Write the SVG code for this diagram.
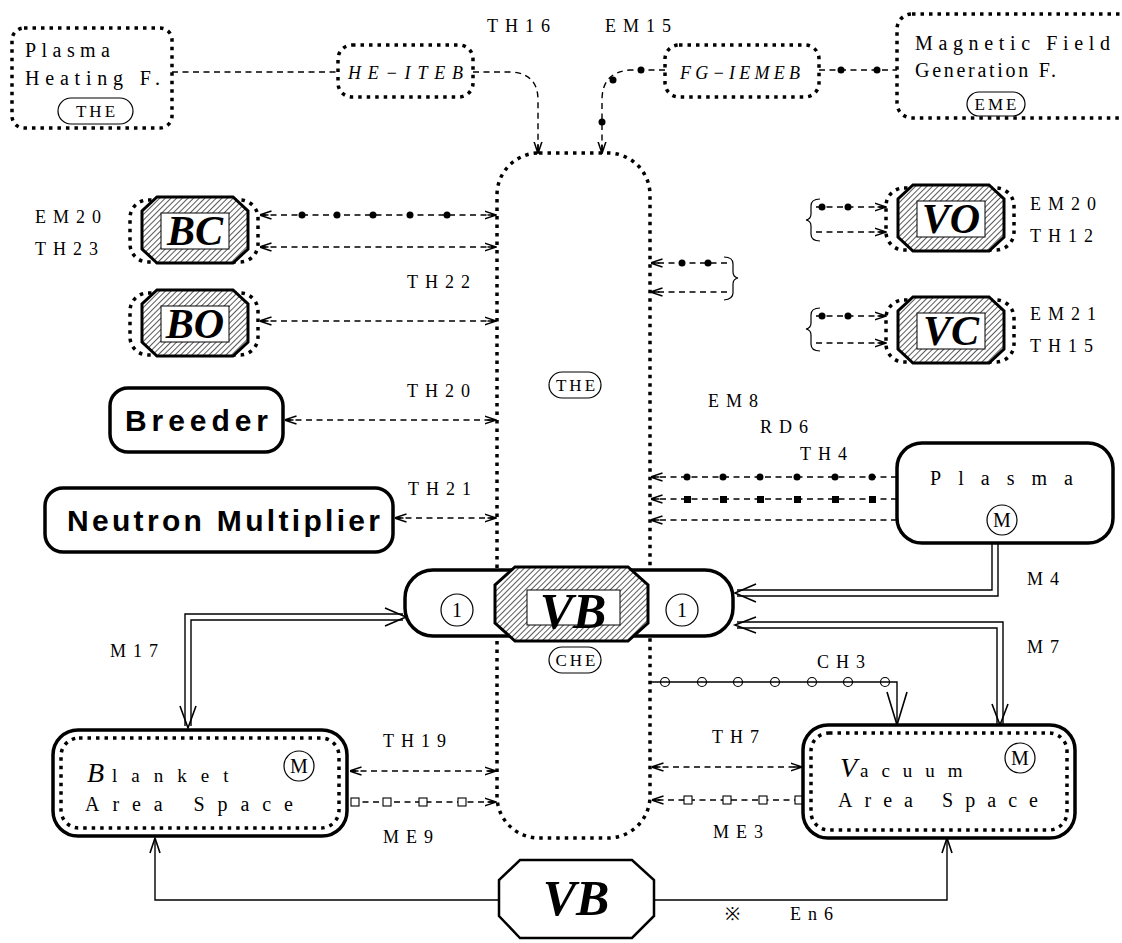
<svg xmlns="http://www.w3.org/2000/svg" width="1122" height="943" viewBox="0 0 1122 943">
<style>
.dot{fill:none;stroke:#000;stroke-width:3.5;stroke-dasharray:3.5 5}
.dl{fill:none;stroke:#000;stroke-width:1.4;stroke-dasharray:6 4.5}
.ln{fill:none;stroke:#000;stroke-width:1.4}
.ah{fill:none;stroke:#000;stroke-width:1.6}
.bx{fill:#fff;stroke:#000;stroke-width:3.5}
.thin{fill:none;stroke:#000;stroke-width:1.2}
.lb{font-family:"Liberation Serif",serif;font-size:18px;letter-spacing:7px;fill:#000}
.tx{font-family:"Liberation Serif",serif;font-size:20px;fill:#000}
.it{font-family:"Liberation Serif",serif;font-style:italic;font-size:18px;fill:#000}
.bi{font-family:"Liberation Serif",serif;font-style:italic;font-weight:bold;fill:#000}
.sb{font-family:"Liberation Sans",sans-serif;font-weight:bold;font-size:30px;fill:#000}
.pill{font-family:"Liberation Serif",serif;font-size:17px;letter-spacing:3px;fill:#000}
.dc{fill:#000}
.sq{fill:#fff;stroke:#000;stroke-width:1.1}
</style>
<defs>
<pattern id="hatch" patternUnits="userSpaceOnUse" width="4" height="4" patternTransform="rotate(45)">
<rect width="4" height="4" fill="#fff"/>
<line x1="0" y1="0" x2="0" y2="4" stroke="#000" stroke-width="1.3"/>
</pattern>
<marker id="ah" viewBox="0 0 12 10" refX="11.5" refY="5" markerWidth="12" markerHeight="10" markerUnits="userSpaceOnUse" orient="auto-start-reverse">
<path d="M0,1 L12,5 L0,9 M3,5 L12,5" fill="none" stroke="#000" stroke-width="1.5" stroke-dasharray="none"/>
</marker>
<g id="valve">
<rect x="-65" y="-30" width="128" height="62" rx="18" class="dot"/>
<polygon points="-38,-33 38,-33 53,-19 53,19 38,33 -38,33 -53,19 -53,-19" fill="url(#hatch)" stroke="#000" stroke-width="3"/>
<rect x="-34" y="-17" width="68" height="36" fill="#fff" stroke="#000" stroke-width="1"/>
</g>
</defs>
<rect width="1122" height="943" fill="#fff"/>

<g id="connectors">
<path class="dl" d="M172,72 H338"/>
<path class="dl" d="M473,72 H512 Q538,74 538,100 V153" marker-end="url(#ah)"/>
<path class="dl" d="M665,70 H630 Q602,72 602,100 V153" marker-end="url(#ah)"/>
<circle class="dc" cx="641" cy="70" r="3.5"/><circle class="dc" cx="613" cy="80" r="3.5"/><circle class="dc" cx="602" cy="122" r="3.5"/>
<path class="dl" d="M819,70 H897"/>
<circle class="dc" cx="841" cy="70" r="3.5"/><circle class="dc" cx="877" cy="70" r="3.5"/>
<path class="dl" d="M260,215 H496" marker-start="url(#ah)" marker-end="url(#ah)"/>
<circle class="dc" cx="302" cy="215" r="3.5"/><circle class="dc" cx="337" cy="215" r="3.5"/><circle class="dc" cx="373" cy="215" r="3.5"/><circle class="dc" cx="410" cy="215" r="3.5"/><circle class="dc" cx="447" cy="215" r="3.5"/>
<path class="dl" d="M260,247 H496" marker-start="url(#ah)" marker-end="url(#ah)"/>
<path class="dl" d="M260,321 H496" marker-start="url(#ah)" marker-end="url(#ah)"/>
<path class="dl" d="M285,420 H496" marker-start="url(#ah)" marker-end="url(#ah)"/>
<path class="dl" d="M395,518 H496" marker-start="url(#ah)" marker-end="url(#ah)"/>
<path class="dl" d="M727,263 H651" marker-end="url(#ah)"/>
<circle class="dc" cx="682" cy="263" r="3.5"/><circle class="dc" cx="708" cy="263" r="3.5"/>
<path class="dl" d="M727,292 H651" marker-end="url(#ah)"/>
<path class="thin" d="M724,257 Q733,257 733,264 L733,272 Q733,277 738,278 Q733,279 733,284 L733,293 Q733,299 724,300"/>
<path class="dl" d="M816,207 H886" marker-end="url(#ah)"/>
<circle class="dc" cx="822" cy="207" r="3.5"/><circle class="dc" cx="848" cy="207" r="3.5"/>
<path class="dl" d="M816,232 H886" marker-end="url(#ah)"/>
<path class="thin" d="M820,199 Q811,199 811,206 L811,214 Q811,219 806,220 Q811,221 811,226 L811,234 Q811,241 820,241"/>
<path class="dl" d="M816,316 H886" marker-end="url(#ah)"/>
<circle class="dc" cx="822" cy="316" r="3.5"/><circle class="dc" cx="848" cy="316" r="3.5"/>
<path class="dl" d="M816,343 H886" marker-end="url(#ah)"/>
<path class="thin" d="M820,308 Q811,308 811,315 L811,323 Q811,328 806,329 Q811,330 811,335 L811,344 Q811,351 820,351"/>
<path class="dl" d="M897,477 H651" marker-end="url(#ah)"/>
<circle class="dc" cx="687" cy="477" r="3.5"/><circle class="dc" cx="723" cy="477" r="3.5"/><circle class="dc" cx="760" cy="477" r="3.5"/><circle class="dc" cx="797" cy="477" r="3.5"/><circle class="dc" cx="835" cy="477" r="3.5"/><circle class="dc" cx="872" cy="477" r="3.5"/>
<path class="dl" d="M897,499 H651" marker-end="url(#ah)"/>
<rect class="dc" x="684" y="496" width="7" height="7"/><rect class="dc" x="720" y="496" width="7" height="7"/><rect class="dc" x="757" y="496" width="7" height="7"/><rect class="dc" x="794" y="496" width="7" height="7"/><rect class="dc" x="832" y="496" width="7" height="7"/><rect class="dc" x="869" y="496" width="7" height="7"/>
<path class="dl" d="M897,520 H651" marker-end="url(#ah)"/>
<path class="ln" d="M998,543 V596 H737 M992,543 V590 H737"/>
<path class="ah" d="M756,584 L735,593 L756,602"/>
<path class="ln" d="M737,622 H1003 V724 M737,628 H997 V724"/>
<path class="ah" d="M756,617 L735,625 L756,633 M992,704 L1000,725 L1008,704"/>
<path class="ln" d="M403,614 H185 V726 M403,620 H191 V726"/>
<path class="ah" d="M385,608 L406,617 L385,626 M180,706 L188,728 L196,706"/>
<path class="ln" d="M651,682 H897 V724"/>
<path class="ah" d="M887,692 L897,725 L907,692"/>
<circle class="thin" cx="665" cy="682" r="4.5"/><circle class="thin" cx="702" cy="682" r="4.5"/><circle class="thin" cx="738" cy="682" r="4.5"/><circle class="thin" cx="775" cy="682" r="4.5"/><circle class="thin" cx="812" cy="682" r="4.5"/><circle class="thin" cx="848" cy="682" r="4.5"/><circle class="thin" cx="885" cy="682" r="4.5"/>
<path class="dl" d="M350,771 H496" marker-start="url(#ah)" marker-end="url(#ah)"/>
<path class="dl" d="M352,802 H496" marker-end="url(#ah)"/>
<rect class="sq" x="351" y="798" width="8" height="8"/><rect class="sq" x="383" y="798" width="8" height="8"/><rect class="sq" x="419" y="798" width="8" height="8"/><rect class="sq" x="458" y="798" width="8" height="8"/>
<path class="dl" d="M652,767 H802" marker-start="url(#ah)" marker-end="url(#ah)"/>
<path class="dl" d="M800,800 H652" marker-end="url(#ah)"/>
<rect class="sq" x="684" y="796" width="8" height="8"/><rect class="sq" x="723" y="796" width="8" height="8"/><rect class="sq" x="759" y="796" width="8" height="8"/><rect class="sq" x="795" y="796" width="8" height="8"/>
<path class="ln" d="M499,900 H155 V840"/>
<path class="ah" d="M150,853 L155,838 L160,853"/>
<path class="ln" d="M654,900 H947 V840"/>
<path class="ah" d="M942,853 L947,838 L952,853"/>
</g>

<g id="labels">
<text class="lb" x="487" y="32" letter-spacing="5">TH16</text>
<text class="lb" x="605" y="32" letter-spacing="5">EM15</text>
<text class="lb" x="35" y="223">EM20</text>
<text class="lb" x="35" y="255">TH23</text>
<text class="lb" x="407" y="288">TH22</text>
<text class="lb" x="407" y="397">TH20</text>
<text class="lb" x="408" y="495">TH21</text>
<text class="lb" x="1030" y="210">EM20</text>
<text class="lb" x="1030" y="242">TH12</text>
<text class="lb" x="1030" y="320">EM21</text>
<text class="lb" x="1030" y="352">TH15</text>
<text class="lb" x="708" y="407">EM8</text>
<text class="lb" x="760" y="433">RD6</text>
<text class="lb" x="800" y="460">TH4</text>
<text class="lb" x="1027" y="585" letter-spacing="5">M4</text>
<text class="lb" x="1027" y="653" letter-spacing="5">M7</text>
<text class="lb" x="817" y="668">CH3</text>
<text class="lb" x="110" y="657">M17</text>
<text class="lb" x="383" y="747">TH19</text>
<text class="lb" x="383" y="843">ME9</text>
<text class="lb" x="712" y="743">TH7</text>
<text class="lb" x="713" y="838">ME3</text>
<text class="lb" x="725" y="920">※</text>
<text class="lb" x="790" y="920" letter-spacing="12">En6</text>
</g>

<g id="plasma-heating">
<rect x="12" y="28" width="160" height="100" rx="12" class="dot"/>
<text class="tx" x="25" y="57" textLength="85" lengthAdjust="spacing">Plasma</text>
<text class="tx" x="25" y="85" textLength="135" lengthAdjust="spacing">Heating F.</text>
<rect x="58" y="98" width="75" height="26" rx="13" class="thin"/>
<text class="pill" x="97" y="117" text-anchor="middle" letter-spacing="5">THE</text>
</g>

<g id="he-iteb">
<rect x="338" y="45" width="135" height="52" rx="14" class="dot"/>
<text class="it" x="348" y="79" textLength="115" lengthAdjust="spacing">HE−ITEB</text>
</g>

<g id="fg-iemeb">
<rect x="665" y="45" width="154" height="52" rx="14" class="dot"/>
<text class="it" x="680" y="79" textLength="120" lengthAdjust="spacing">FG−IEMEB</text>
</g>

<g id="magnetic">
<rect x="897" y="14" width="260" height="104" rx="15" class="dot"/>
<text class="tx" x="915" y="50" textLength="195" lengthAdjust="spacing">Magnetic Field</text>
<text class="tx" x="915" y="77" textLength="141" lengthAdjust="spacing">Generation F.</text>
<rect x="967" y="92" width="58" height="24" rx="12" class="thin"/>
<text class="pill" x="997" y="110" text-anchor="middle">EME</text>
</g>

<g id="the-che">
<rect x="497" y="153" width="153" height="685" rx="42" class="dot"/>
<rect x="549" y="372" width="52" height="26" rx="13" class="thin"/>
<text class="pill" x="577" y="391" text-anchor="middle">THE</text>
<rect x="549" y="647" width="52" height="26" rx="13" class="thin"/>
<text class="pill" x="577" y="666" text-anchor="middle">CHE</text>
</g>

<g id="bc">
<use href="#valve" x="195" y="230"/>
<text class="bi" x="195" y="245" font-size="42" text-anchor="middle">BC</text>
</g>
<g id="bo">
<use href="#valve" x="195" y="323"/>
<text class="bi" x="195" y="338" font-size="42" text-anchor="middle">BO</text>
</g>
<g id="vo">
<use href="#valve" x="951" y="218"/>
<text class="bi" x="951" y="233" font-size="42" text-anchor="middle">VO</text>
</g>
<g id="vc">
<use href="#valve" x="951" y="330"/>
<text class="bi" x="951" y="345" font-size="42" text-anchor="middle">VC</text>
</g>

<g id="breeder">
<rect x="110" y="388" width="173" height="64" rx="18" class="bx"/>
<text class="sb" x="125" y="431" textLength="143" lengthAdjust="spacing">Breeder</text>
</g>

<g id="neutron-multiplier">
<rect x="45" y="488" width="348" height="64" rx="18" class="bx"/>
<text class="sb" x="67" y="531" textLength="313" lengthAdjust="spacing">Neutron Multiplier</text>
</g>

<g id="plasma">
<rect x="897" y="443" width="216" height="100" rx="25" class="bx"/>
<text class="tx" x="930" y="485" font-size="22" textLength="143" lengthAdjust="spacing">Plasma</text>
<circle cx="1002" cy="520" r="15" class="thin"/>
<text class="tx" x="1002" y="527" font-size="18" text-anchor="middle">M</text>
</g>

<g id="vb-main">
<rect x="405" y="570" width="328" height="66" rx="28" class="bx"/>
<polygon points="515,567 628,567 648,585 648,623 628,641 515,641 495,623 495,585" fill="url(#hatch)" stroke="#000" stroke-width="3"/>
<rect x="527" y="590" width="93" height="35" fill="#fff" stroke="#000" stroke-width="1"/>
<text class="bi" x="573" y="628" font-size="50" text-anchor="middle">VB</text>
<circle cx="457" cy="610" r="16" class="thin"/>
<text class="tx" x="457" y="617" font-size="20" text-anchor="middle">1</text>
<circle cx="682" cy="610" r="16" class="thin"/>
<text class="tx" x="682" y="617" font-size="20" text-anchor="middle">1</text>
</g>

<g id="blanket">
<rect x="53" y="730" width="294" height="106" rx="25" class="bx"/>
<rect x="61" y="738" width="278" height="90" rx="18" class="dot"/>
<text class="tx" x="87" y="782"><tspan style="font-style:italic;font-weight:normal;font-size:28px">B</tspan><tspan x="112" font-size="19" letter-spacing="14">lanket</tspan></text>
<text class="tx" x="85" y="811" font-size="19" textLength="208" lengthAdjust="spacing">Area Space</text>
<circle cx="299" cy="766" r="15" class="thin"/>
<text class="tx" x="299" y="773" font-size="18" text-anchor="middle">M</text>
</g>

<g id="vacuum">
<rect x="803" y="725" width="272" height="113" rx="25" class="bx"/>
<rect x="811" y="733" width="256" height="97" rx="18" class="dot"/>
<text class="tx" x="840" y="777"><tspan style="font-style:italic;font-weight:normal;font-size:28px">V</tspan><tspan x="860" font-size="19" letter-spacing="13">acuum</tspan></text>
<text class="tx" x="838" y="807" font-size="19" textLength="200" lengthAdjust="spacing">Area Space</text>
<circle cx="1020" cy="758" r="15" class="thin"/>
<text class="tx" x="1020" y="765" font-size="18" text-anchor="middle">M</text>
</g>

<g id="vb-bottom">
<polygon points="520,860 632,860 654,880 654,916 632,938 520,938 499,916 499,880" fill="#fff" stroke="#000" stroke-width="2.5"/>
<text class="bi" x="576" y="915" font-size="50" text-anchor="middle">VB</text>
</g>
</svg>
